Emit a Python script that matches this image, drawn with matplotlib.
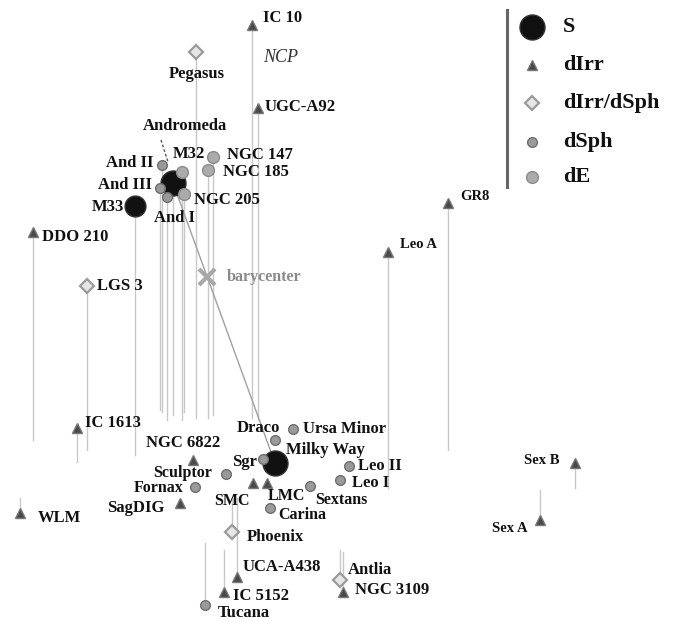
import matplotlib
matplotlib.use("Agg")
import matplotlib.pyplot as plt
import numpy as np

# ---------------- data (projected view coordinates) ----------------
names = ["Andromeda", "M32", "NGC 147", "NGC 185", "NGC 205", "And II", "And III", "And I",
         "M33", "IC 10", "Pegasus", "UGC-A92", "DDO 210", "LGS 3", "GR8", "Leo A",
         "IC 1613", "NGC 6822", "Draco", "Ursa Minor", "Milky Way", "Sgr", "Sculptor",
         "Fornax", "SagDIG", "SMC", "LMC", "Sextans", "Carina", "Leo II", "Leo I",
         "WLM", "Phoenix", "UCA-A438", "IC 5152", "Tucana", "Antlia", "NGC 3109",
         "Sex B", "Sex A"]
types = ["S", "dE", "dE", "dE", "dE", "dSph", "dSph", "dSph",
         "S", "dIrr", "dIrr/dSph", "dIrr", "dIrr", "dIrr/dSph", "dIrr", "dIrr",
         "dIrr", "dIrr", "dSph", "dSph", "S", "dSph", "dSph",
         "dSph", "dIrr", "dIrr", "dIrr", "dSph", "dSph", "dSph", "dSph",
         "dIrr", "dIrr/dSph", "dIrr", "dIrr", "dSph", "dIrr/dSph", "dIrr",
         "dIrr", "dIrr"]
xs = [173, 182, 213, 208, 184, 162, 160, 167,
      135, 252, 196, 258, 33, 87, 448, 388,
      77, 193, 275, 293, 275, 263, 226,
      195, 180, 253, 267, 310, 270, 349, 340,
      20, 232, 237, 224, 205, 340, 343,
      575, 540]
ys = [183, 172, 157, 170, 194, 165, 188, 197,
      206, 25, 52, 108, 232, 286, 203, 252,
      428, 460, 440, 429, 463, 459, 474,
      487, 503, 483, 483, 486, 508, 466, 480,
      513, 532, 577, 592, 605, 580, 592,
      463, 520]
# end of the drop line of each object onto the reference plane (nan = none)
nan = np.nan
base_y = [415, 420, 415, 418, 412, 412, 410, 420,
          455, 418, 418, 420, 440, 450, 450, 488,
          462, nan, nan, nan, nan, nan, nan,
          nan, nan, nan, nan, nan, nan, nan, nan,
          498, 498, 498, 550, 543, 550, 552,
          488, 490]

barycenter = (207, 277)
legend_types = ["S", "dIrr", "dIrr/dSph", "dSph", "dE"]

# ---------------- layout / style ----------------
label_off = {  # dx, dy (px), ha
    "M32": (-9, -18, "left"), "NGC 147": (14, -2, "left"), "NGC 185": (15, 2, "left"),
    "NGC 205": (10, 6, "left"), "And II": (-9, -2, "right"), "And III": (-8, -3, "right"),
    "And I": (8, 21, "center"), "M33": (-11, 1, "right"), "IC 10": (11, -7, "left"),
    "Pegasus": (1, 22, "center"), "UGC-A92": (7, -1, "left"), "DDO 210": (9, 5, "left"),
    "LGS 3": (10, 0, "left"), "GR8": (12, -6, "left"), "Leo A": (12, -7, "left"),
    "IC 1613": (8, -5, "left"), "NGC 6822": (-10, -17, "center"), "Draco": (5, -12, "right"),
    "Ursa Minor": (10, 0, "left"), "Milky Way": (11, -13, "left"), "Sgr": (-6, 3, "right"),
    "Sculptor": (-14, -1, "right"), "Fornax": (-12, 1, "right"), "SagDIG": (-16, 5, "right"),
    "SMC": (-3, 18, "right"), "LMC": (1, 13, "left"), "Sextans": (5, 14, "left"),
    "Carina": (8, 7, "left"), "Leo II": (9, 0, "left"), "Leo I": (12, 3, "left"),
    "WLM": (18, 5, "left"), "Phoenix": (15, 5, "left"), "UCA-A438": (6, -10, "left"),
    "IC 5152": (9, 4, "left"), "Tucana": (13, 8, "left"), "Antlia": (8, -10, "left"),
    "NGC 3109": (12, -2, "left"), "Sex B": (-15, -3, "right"), "Sex A": (-12, 8, "right"),
}
small_labels = {"GR8", "Leo A", "Sex B", "Sex A"}
tight_labels = {"Sculptor", "Fornax", "LMC", "Sextans", "SMC", "Carina"}

style = {
    "S": dict(marker="o", ms=17, mfc="#111111", mec="#333333", mew=1.0),
    "dIrr": dict(marker="^", ms=7.5, mfc="#4a4a4a", mec="#777777", mew=1.0),
    "dIrr/dSph": dict(marker="D", ms=7.5, mfc="#e6e6e6", mec="#9a9a9a", mew=1.6),
    "dSph": dict(marker="o", ms=7, mfc="#9a9a9a", mec="#6e6e6e", mew=1.0),
    "dE": dict(marker="o", ms=8.5, mfc="#ababab", mec="#8a8a8a", mew=1.0),
}
big = {"Andromeda": 18, "M33": 15, "Milky Way": 18}

W, H = 677, 622
fig = plt.figure(figsize=(W / 100, H / 100), dpi=100)
ax = fig.add_axes([0, 0, 1, 1])
ax.set_xlim(0, W)
ax.set_ylim(H, 0)
ax.axis("off")

font = ["Liberation Serif", "DejaVu Serif"]

# drop lines
for x, y, b in zip(xs, ys, base_y):
    if not np.isnan(b):
        ax.plot([x, x], [y, b], color="#c8c8c8", lw=1.0, zorder=1)

# line Andromeda - Milky Way
i_a, i_m = names.index("Andromeda"), names.index("Milky Way")
ax.plot([xs[i_a], xs[i_m]], [ys[i_a], ys[i_m]], color="#a0a0a0", lw=1.0, zorder=1)

# barycenter
ax.plot(*barycenter, marker="x", ms=11, mew=3, color="#a8a8a8", zorder=3)
ax.text(barycenter[0] + 20, barycenter[1], "barycenter", fontsize=11.5, color="#8a8a8a",
        family=font, va="center", ha="left", fontweight="bold")

# NCP
ax.text(263, 58, "NCP", fontsize=13, style="italic", family=font, va="center",
        ha="left", color="#333333")

# markers
order = sorted(range(len(names)), key=lambda i: {"S": 2}.get(types[i], 3))
for i in order:
    st = dict(style[types[i]])
    if names[i] in big:
        st["ms"] = big[names[i]]
    ax.plot(xs[i], ys[i], linestyle="none", zorder=4 if types[i] == "S" else 5, **st)

# labels
for i, n in enumerate(names):
    if n == "Andromeda":
        continue
    dx, dy, ha = label_off[n]
    fs = 10.5 if n in small_labels else (11.5 if n in tight_labels else 12)
    ax.text(xs[i] + dx, ys[i] + dy, n, fontsize=fs,
            fontweight="bold", family=font, ha=ha, va="center", color="#111111", zorder=6)

# Andromeda label with dashed pointer
ax.text(185, 126, "Andromeda", fontsize=12, fontweight="bold", family=font,
        ha="center", va="center", color="#111111", zorder=6)
ax.plot([161, 168], [140, 162], color="#555555", lw=1.0, ls=(0, (2, 1.5)), zorder=6)

# legend
ax.plot([507, 507], [10, 187], color="#666666", lw=2.2, zorder=2)
leg_y = [27, 65, 103, 142, 177]
leg_ms = {"S": 18, "dIrr": 7.5, "dIrr/dSph": 7, "dSph": 7, "dE": 8.5}
for t, ly in zip(legend_types, leg_y):
    st = dict(style[t])
    st["ms"] = leg_ms[t]
    ax.plot(532, ly, linestyle="none", **st)
    ax.text(563, ly, t, fontsize=16, fontweight="bold", family=font, ha="left",
            va="center", color="#111111")

fig.savefig("out.png", dpi=100)
